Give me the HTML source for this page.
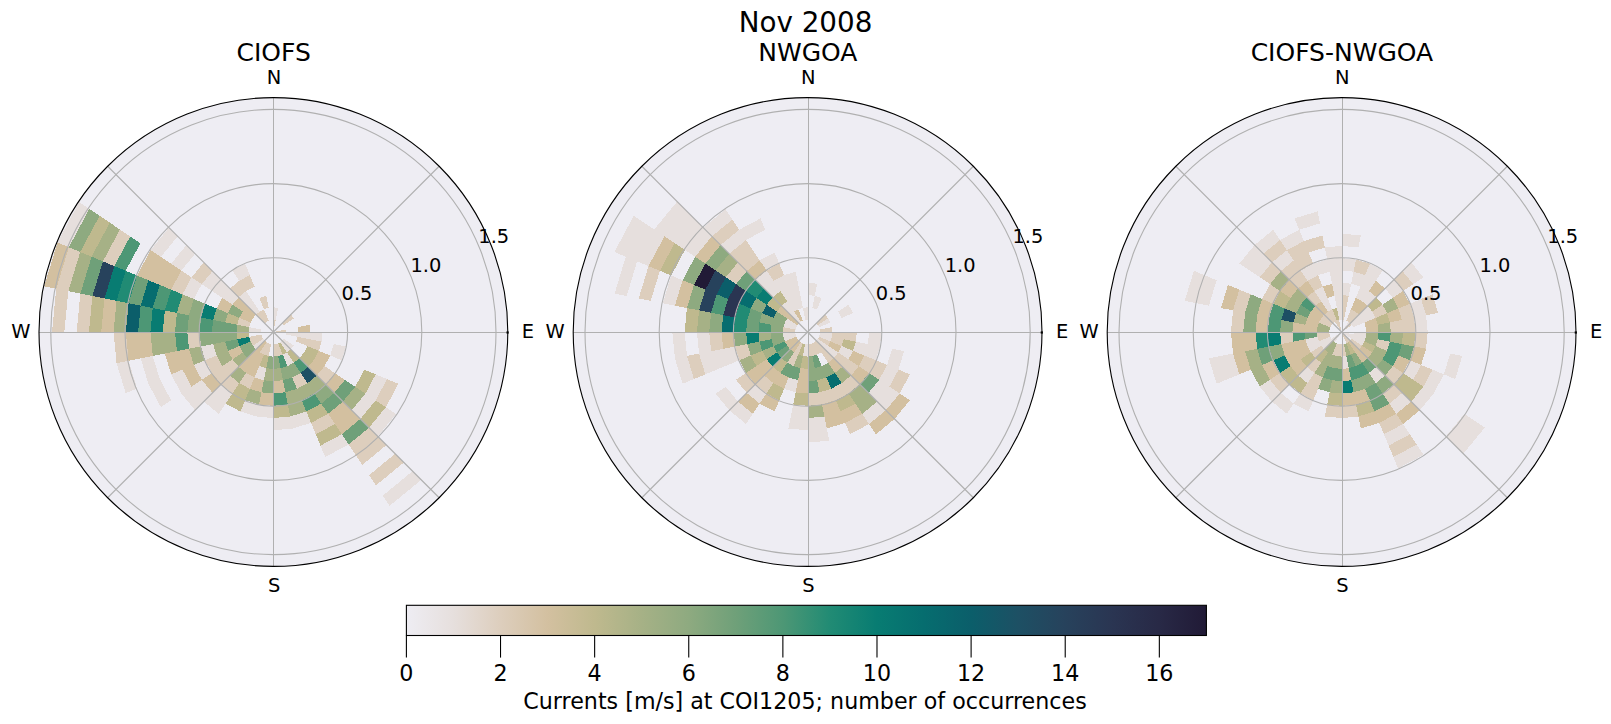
<!DOCTYPE html><html><head><meta charset="utf-8"><title>Nov 2008</title><style>html,body{margin:0;padding:0;background:#fff}svg{display:block}</style></head><body><svg width="1611" height="724" viewBox="0 0 1611 724" font-family="'DejaVu Sans', 'Liberation Sans', sans-serif" fill="#000">
<rect width="1611" height="724" fill="#fff"/>
<defs>
<clipPath id="c0"><circle cx="273.4" cy="332.0" r="234.4"/></clipPath>
<clipPath id="c1"><circle cx="807.6" cy="332.0" r="234.4"/></clipPath>
<clipPath id="c2"><circle cx="1341.6" cy="332.0" r="234.4"/></clipPath>
<linearGradient id="cb" x1="0" x2="1" y1="0" y2="0"><stop offset="0.000%" stop-color="#eeedf3"/><stop offset="5.882%" stop-color="#e6dfdd"/><stop offset="11.765%" stop-color="#ddcebd"/><stop offset="17.647%" stop-color="#d3c0a0"/><stop offset="23.529%" stop-color="#bfb98e"/><stop offset="29.412%" stop-color="#a6b186"/><stop offset="35.294%" stop-color="#8eaa80"/><stop offset="41.176%" stop-color="#6fa079"/><stop offset="47.059%" stop-color="#4d9775"/><stop offset="52.941%" stop-color="#218b74"/><stop offset="58.824%" stop-color="#087c72"/><stop offset="64.706%" stop-color="#066d6f"/><stop offset="70.588%" stop-color="#0b5e6a"/><stop offset="76.471%" stop-color="#1d5064"/><stop offset="82.353%" stop-color="#27425c"/><stop offset="88.235%" stop-color="#2a3552"/><stop offset="94.118%" stop-color="#282946"/><stop offset="100.000%" stop-color="#211a36"/></linearGradient>
</defs>
<text x="805.5" y="32.1" font-size="27.78" text-anchor="middle">Nov 2008</text>
<text x="273.7" y="61.2" font-size="25" text-anchor="middle">CIOFS</text>
<circle cx="273.4" cy="332.0" r="234.4" fill="#eeedf3"/>
<g clip-path="url(#c0)" shape-rendering="crispEdges">
<path d="M273.40,332.00L273.40,319.70L275.80,319.94Z" fill="#ddcebd"/>
<path d="M273.40,319.70L273.40,307.40L278.20,307.87L275.80,319.94Z" fill="#e6dfdd"/>
<path d="M282.10,323.30L290.79,314.61L293.85,318.33L283.63,325.17Z" fill="#ddcebd"/>
<path d="M273.40,332.00L285.46,329.60L285.70,332.00Z" fill="#ddcebd"/>
<path d="M297.53,327.20L309.59,324.80L310.30,332.00L298.00,332.00Z" fill="#d3c0a0"/>
<path d="M285.70,332.00L298.00,332.00L297.53,336.80L285.46,334.40Z" fill="#e6dfdd"/>
<path d="M298.00,332.00L310.30,332.00L309.59,339.20L297.53,336.80Z" fill="#e6dfdd"/>
<path d="M310.30,332.00L322.60,332.00L321.65,341.60L309.59,339.20Z" fill="#e6dfdd"/>
<path d="M297.53,336.80L309.59,339.20L307.49,346.12L296.13,341.41Z" fill="#ddcebd"/>
<path d="M309.59,339.20L321.65,341.60L318.85,350.83L307.49,346.12Z" fill="#ddcebd"/>
<path d="M333.72,344.00L345.78,346.40L341.58,360.24L330.22,355.54Z" fill="#e6dfdd"/>
<path d="M307.49,346.12L318.85,350.83L314.31,359.33L304.08,352.50Z" fill="#bfb98e"/>
<path d="M318.85,350.83L330.22,355.54L324.54,366.17L314.31,359.33Z" fill="#d3c0a0"/>
<path d="M364.31,369.66L375.67,374.36L365.44,393.50L355.22,386.67Z" fill="#bfb98e"/>
<path d="M375.67,374.36L387.04,379.07L375.67,400.34L365.44,393.50Z" fill="#e6dfdd"/>
<path d="M387.04,379.07L398.40,383.78L385.90,407.17L375.67,400.34Z" fill="#ddcebd"/>
<path d="M283.63,338.83L293.85,345.67L290.79,349.39L282.10,340.70Z" fill="#e6dfdd"/>
<path d="M304.08,352.50L314.31,359.33L308.19,366.79L299.49,358.09Z" fill="#bfb98e"/>
<path d="M314.31,359.33L324.54,366.17L316.89,375.49L308.19,366.79Z" fill="#d3c0a0"/>
<path d="M324.54,366.17L334.76,373.00L325.58,384.18L316.89,375.49Z" fill="#ddcebd"/>
<path d="M334.76,373.00L344.99,379.83L334.28,392.88L325.58,384.18Z" fill="#d3c0a0"/>
<path d="M344.99,379.83L355.22,386.67L342.98,401.58L334.28,392.88Z" fill="#6fa079"/>
<path d="M355.22,386.67L365.44,393.50L351.68,410.28L342.98,401.58Z" fill="#a6b186"/>
<path d="M365.44,393.50L375.67,400.34L360.37,418.97L351.68,410.28Z" fill="#e6dfdd"/>
<path d="M375.67,400.34L385.90,407.17L369.07,427.67L360.37,418.97Z" fill="#bfb98e"/>
<path d="M385.90,407.17L396.12,414.00L377.77,436.37L369.07,427.67Z" fill="#e6dfdd"/>
<path d="M282.10,340.70L290.79,349.39L287.07,352.45L280.23,342.23Z" fill="#e6dfdd"/>
<path d="M290.79,349.39L299.49,358.09L293.90,362.68L287.07,352.45Z" fill="#bfb98e"/>
<path d="M299.49,358.09L308.19,366.79L300.73,372.91L293.90,362.68Z" fill="#4d9775"/>
<path d="M308.19,366.79L316.89,375.49L307.57,383.14L300.73,372.91Z" fill="#1d5064"/>
<path d="M316.89,375.49L325.58,384.18L314.40,393.36L307.57,383.14Z" fill="#a6b186"/>
<path d="M325.58,384.18L334.28,392.88L321.23,403.59L314.40,393.36Z" fill="#8eaa80"/>
<path d="M334.28,392.88L342.98,401.58L328.07,413.82L321.23,403.59Z" fill="#6fa079"/>
<path d="M342.98,401.58L351.68,410.28L334.90,424.04L328.07,413.82Z" fill="#d3c0a0"/>
<path d="M351.68,410.28L360.37,418.97L341.74,434.27L334.90,424.04Z" fill="#d3c0a0"/>
<path d="M360.37,418.97L369.07,427.67L348.57,444.50L341.74,434.27Z" fill="#6fa079"/>
<path d="M369.07,427.67L377.77,436.37L355.40,454.72L348.57,444.50Z" fill="#ddcebd"/>
<path d="M377.77,436.37L386.47,445.07L362.24,464.95L355.40,454.72Z" fill="#ddcebd"/>
<path d="M395.16,453.76L403.86,462.46L375.90,485.41L369.07,475.18Z" fill="#ddcebd"/>
<path d="M412.56,471.16L421.26,479.86L389.57,505.86L382.74,495.63Z" fill="#e6dfdd"/>
<path d="M280.23,342.23L287.07,352.45L282.81,354.73L278.11,343.36Z" fill="#bfb98e"/>
<path d="M287.07,352.45L293.90,362.68L287.52,366.09L282.81,354.73Z" fill="#e6dfdd"/>
<path d="M293.90,362.68L300.73,372.91L292.23,377.45L287.52,366.09Z" fill="#8eaa80"/>
<path d="M300.73,372.91L307.57,383.14L296.94,388.82L292.23,377.45Z" fill="#ddcebd"/>
<path d="M307.57,383.14L314.40,393.36L301.64,400.18L296.94,388.82Z" fill="#a6b186"/>
<path d="M314.40,393.36L321.23,403.59L306.35,411.55L301.64,400.18Z" fill="#4d9775"/>
<path d="M321.23,403.59L328.07,413.82L311.06,422.91L306.35,411.55Z" fill="#bfb98e"/>
<path d="M328.07,413.82L334.90,424.04L315.76,434.27L311.06,422.91Z" fill="#ddcebd"/>
<path d="M334.90,424.04L341.74,434.27L320.47,445.64L315.76,434.27Z" fill="#bfb98e"/>
<path d="M341.74,434.27L348.57,444.50L325.18,457.00L320.47,445.64Z" fill="#e6dfdd"/>
<path d="M278.11,343.36L282.81,354.73L278.20,356.13L275.80,344.06Z" fill="#ddcebd"/>
<path d="M282.81,354.73L287.52,366.09L280.60,368.19L278.20,356.13Z" fill="#4d9775"/>
<path d="M287.52,366.09L292.23,377.45L283.00,380.25L280.60,368.19Z" fill="#8eaa80"/>
<path d="M292.23,377.45L296.94,388.82L285.40,392.32L283.00,380.25Z" fill="#6fa079"/>
<path d="M296.94,388.82L301.64,400.18L287.80,404.38L285.40,392.32Z" fill="#a6b186"/>
<path d="M301.64,400.18L306.35,411.55L290.20,416.45L287.80,404.38Z" fill="#a6b186"/>
<path d="M306.35,411.55L311.06,422.91L292.60,428.51L290.20,416.45Z" fill="#e6dfdd"/>
<path d="M275.80,344.06L278.20,356.13L273.40,356.60L273.40,344.30Z" fill="#ddcebd"/>
<path d="M278.20,356.13L280.60,368.19L273.40,368.90L273.40,356.60Z" fill="#8eaa80"/>
<path d="M280.60,368.19L283.00,380.25L273.40,381.20L273.40,368.90Z" fill="#a6b186"/>
<path d="M283.00,380.25L285.40,392.32L273.40,393.50L273.40,381.20Z" fill="#d3c0a0"/>
<path d="M285.40,392.32L287.80,404.38L273.40,405.80L273.40,393.50Z" fill="#4d9775"/>
<path d="M287.80,404.38L290.20,416.45L273.40,418.10L273.40,405.80Z" fill="#bfb98e"/>
<path d="M290.20,416.45L292.60,428.51L273.40,430.40L273.40,418.10Z" fill="#e6dfdd"/>
<path d="M273.40,356.60L273.40,368.90L266.20,368.19L268.60,356.13Z" fill="#8eaa80"/>
<path d="M273.40,368.90L273.40,381.20L263.80,380.25L266.20,368.19Z" fill="#a6b186"/>
<path d="M273.40,381.20L273.40,393.50L261.40,392.32L263.80,380.25Z" fill="#8eaa80"/>
<path d="M273.40,393.50L273.40,405.80L259.00,404.38L261.40,392.32Z" fill="#d3c0a0"/>
<path d="M273.40,405.80L273.40,418.10L256.60,416.45L259.00,404.38Z" fill="#e6dfdd"/>
<path d="M271.00,344.06L268.60,356.13L263.99,354.73L268.69,343.36Z" fill="#ddcebd"/>
<path d="M268.60,356.13L266.20,368.19L259.28,366.09L263.99,354.73Z" fill="#bfb98e"/>
<path d="M266.20,368.19L263.80,380.25L254.57,377.45L259.28,366.09Z" fill="#e6dfdd"/>
<path d="M263.80,380.25L261.40,392.32L249.86,388.82L254.57,377.45Z" fill="#d3c0a0"/>
<path d="M261.40,392.32L259.00,404.38L245.16,400.18L249.86,388.82Z" fill="#a6b186"/>
<path d="M259.00,404.38L256.60,416.45L240.45,411.55L245.16,400.18Z" fill="#e6dfdd"/>
<path d="M268.69,343.36L263.99,354.73L259.73,352.45L266.57,342.23Z" fill="#ddcebd"/>
<path d="M263.99,354.73L259.28,366.09L252.90,362.68L259.73,352.45Z" fill="#d3c0a0"/>
<path d="M259.28,366.09L254.57,377.45L246.07,372.91L252.90,362.68Z" fill="#d3c0a0"/>
<path d="M254.57,377.45L249.86,388.82L239.23,383.14L246.07,372.91Z" fill="#ddcebd"/>
<path d="M249.86,388.82L245.16,400.18L232.40,393.36L239.23,383.14Z" fill="#bfb98e"/>
<path d="M245.16,400.18L240.45,411.55L225.57,403.59L232.40,393.36Z" fill="#bfb98e"/>
<path d="M266.57,342.23L259.73,352.45L256.01,349.39L264.70,340.70Z" fill="#d3c0a0"/>
<path d="M259.73,352.45L252.90,362.68L247.31,358.09L256.01,349.39Z" fill="#d3c0a0"/>
<path d="M252.90,362.68L246.07,372.91L238.61,366.79L247.31,358.09Z" fill="#d3c0a0"/>
<path d="M246.07,372.91L239.23,383.14L229.91,375.49L238.61,366.79Z" fill="#a6b186"/>
<path d="M239.23,383.14L232.40,393.36L221.22,384.18L229.91,375.49Z" fill="#ddcebd"/>
<path d="M232.40,393.36L225.57,403.59L212.52,392.88L221.22,384.18Z" fill="#e6dfdd"/>
<path d="M225.57,403.59L218.73,413.82L203.82,401.58L212.52,392.88Z" fill="#e6dfdd"/>
<path d="M264.70,340.70L256.01,349.39L252.95,345.67L263.17,338.83Z" fill="#e6dfdd"/>
<path d="M256.01,349.39L247.31,358.09L242.72,352.50L252.95,345.67Z" fill="#8eaa80"/>
<path d="M247.31,358.09L238.61,366.79L232.49,359.33L242.72,352.50Z" fill="#a6b186"/>
<path d="M238.61,366.79L229.91,375.49L222.26,366.17L232.49,359.33Z" fill="#ddcebd"/>
<path d="M229.91,375.49L221.22,384.18L212.04,373.00L222.26,366.17Z" fill="#ddcebd"/>
<path d="M221.22,384.18L212.52,392.88L201.81,379.83L212.04,373.00Z" fill="#d3c0a0"/>
<path d="M212.52,392.88L203.82,401.58L191.58,386.67L201.81,379.83Z" fill="#e6dfdd"/>
<path d="M203.82,401.58L195.12,410.28L181.36,393.50L191.58,386.67Z" fill="#e6dfdd"/>
<path d="M263.17,338.83L252.95,345.67L250.67,341.41L262.04,336.71Z" fill="#ddcebd"/>
<path d="M252.95,345.67L242.72,352.50L239.31,346.12L250.67,341.41Z" fill="#8eaa80"/>
<path d="M242.72,352.50L232.49,359.33L227.95,350.83L239.31,346.12Z" fill="#d3c0a0"/>
<path d="M232.49,359.33L222.26,366.17L216.58,355.54L227.95,350.83Z" fill="#a6b186"/>
<path d="M222.26,366.17L212.04,373.00L205.22,360.24L216.58,355.54Z" fill="#ddcebd"/>
<path d="M212.04,373.00L201.81,379.83L193.85,364.95L205.22,360.24Z" fill="#e6dfdd"/>
<path d="M201.81,379.83L191.58,386.67L182.49,369.66L193.85,364.95Z" fill="#d3c0a0"/>
<path d="M191.58,386.67L181.36,393.50L171.13,374.36L182.49,369.66Z" fill="#e6dfdd"/>
<path d="M171.13,400.34L160.90,407.17L148.40,383.78L159.76,379.07Z" fill="#e6dfdd"/>
<path d="M262.04,336.71L250.67,341.41L249.27,336.80L261.34,334.40Z" fill="#ddcebd"/>
<path d="M250.67,341.41L239.31,346.12L237.21,339.20L249.27,336.80Z" fill="#087c72"/>
<path d="M239.31,346.12L227.95,350.83L225.15,341.60L237.21,339.20Z" fill="#6fa079"/>
<path d="M227.95,350.83L216.58,355.54L213.08,344.00L225.15,341.60Z" fill="#a6b186"/>
<path d="M216.58,355.54L205.22,360.24L201.02,346.40L213.08,344.00Z" fill="#e6dfdd"/>
<path d="M205.22,360.24L193.85,364.95L188.95,348.80L201.02,346.40Z" fill="#a6b186"/>
<path d="M193.85,364.95L182.49,369.66L176.89,351.20L188.95,348.80Z" fill="#d3c0a0"/>
<path d="M182.49,369.66L171.13,374.36L164.83,353.60L176.89,351.20Z" fill="#d3c0a0"/>
<path d="M159.76,379.07L148.40,383.78L140.70,358.40L152.76,356.00Z" fill="#e6dfdd"/>
<path d="M137.04,388.48L125.67,393.19L116.57,363.19L128.64,360.80Z" fill="#e6dfdd"/>
<path d="M249.27,336.80L237.21,339.20L236.50,332.00L248.80,332.00Z" fill="#bfb98e"/>
<path d="M237.21,339.20L225.15,341.60L224.20,332.00L236.50,332.00Z" fill="#8eaa80"/>
<path d="M225.15,341.60L213.08,344.00L211.90,332.00L224.20,332.00Z" fill="#8eaa80"/>
<path d="M213.08,344.00L201.02,346.40L199.60,332.00L211.90,332.00Z" fill="#8eaa80"/>
<path d="M201.02,346.40L188.95,348.80L187.30,332.00L199.60,332.00Z" fill="#ddcebd"/>
<path d="M188.95,348.80L176.89,351.20L175.00,332.00L187.30,332.00Z" fill="#4d9775"/>
<path d="M176.89,351.20L164.83,353.60L162.70,332.00L175.00,332.00Z" fill="#a6b186"/>
<path d="M164.83,353.60L152.76,356.00L150.40,332.00L162.70,332.00Z" fill="#a6b186"/>
<path d="M152.76,356.00L140.70,358.40L138.10,332.00L150.40,332.00Z" fill="#d3c0a0"/>
<path d="M140.70,358.40L128.64,360.80L125.80,332.00L138.10,332.00Z" fill="#d3c0a0"/>
<path d="M128.64,360.80L116.57,363.19L113.50,332.00L125.80,332.00Z" fill="#ddcebd"/>
<path d="M261.10,332.00L248.80,332.00L249.27,327.20L261.34,329.60Z" fill="#e6dfdd"/>
<path d="M248.80,332.00L236.50,332.00L237.21,324.80L249.27,327.20Z" fill="#a6b186"/>
<path d="M236.50,332.00L224.20,332.00L225.15,322.40L237.21,324.80Z" fill="#6fa079"/>
<path d="M224.20,332.00L211.90,332.00L213.08,320.00L225.15,322.40Z" fill="#6fa079"/>
<path d="M211.90,332.00L199.60,332.00L201.02,317.60L213.08,320.00Z" fill="#4d9775"/>
<path d="M199.60,332.00L187.30,332.00L188.95,315.20L201.02,317.60Z" fill="#8eaa80"/>
<path d="M187.30,332.00L175.00,332.00L176.89,312.80L188.95,315.20Z" fill="#6fa079"/>
<path d="M175.00,332.00L162.70,332.00L164.83,310.40L176.89,312.80Z" fill="#bfb98e"/>
<path d="M162.70,332.00L150.40,332.00L152.76,308.00L164.83,310.40Z" fill="#087c72"/>
<path d="M150.40,332.00L138.10,332.00L140.70,305.60L152.76,308.00Z" fill="#4d9775"/>
<path d="M138.10,332.00L125.80,332.00L128.64,303.20L140.70,305.60Z" fill="#0b5e6a"/>
<path d="M125.80,332.00L113.50,332.00L116.57,300.81L128.64,303.20Z" fill="#a6b186"/>
<path d="M113.50,332.00L101.20,332.00L104.51,298.41L116.57,300.81Z" fill="#d3c0a0"/>
<path d="M101.20,332.00L88.90,332.00L92.45,296.01L104.51,298.41Z" fill="#bfb98e"/>
<path d="M88.90,332.00L76.60,332.00L80.38,293.61L92.45,296.01Z" fill="#ddcebd"/>
<path d="M64.30,332.00L52.00,332.00L56.25,288.81L68.32,291.21Z" fill="#ddcebd"/>
<path d="M249.27,327.20L237.21,324.80L239.31,317.88L250.67,322.59Z" fill="#ddcebd"/>
<path d="M237.21,324.80L225.15,322.40L227.95,313.17L239.31,317.88Z" fill="#bfb98e"/>
<path d="M225.15,322.40L213.08,320.00L216.58,308.46L227.95,313.17Z" fill="#8eaa80"/>
<path d="M213.08,320.00L201.02,317.60L205.22,303.76L216.58,308.46Z" fill="#087c72"/>
<path d="M201.02,317.60L188.95,315.20L193.85,299.05L205.22,303.76Z" fill="#8eaa80"/>
<path d="M188.95,315.20L176.89,312.80L182.49,294.34L193.85,299.05Z" fill="#a6b186"/>
<path d="M176.89,312.80L164.83,310.40L171.13,289.64L182.49,294.34Z" fill="#218b74"/>
<path d="M164.83,310.40L152.76,308.00L159.76,284.93L171.13,289.64Z" fill="#4d9775"/>
<path d="M152.76,308.00L140.70,305.60L148.40,280.22L159.76,284.93Z" fill="#066d6f"/>
<path d="M140.70,305.60L128.64,303.20L137.04,275.52L148.40,280.22Z" fill="#6fa079"/>
<path d="M128.64,303.20L116.57,300.81L125.67,270.81L137.04,275.52Z" fill="#218b74"/>
<path d="M116.57,300.81L104.51,298.41L114.31,266.10L125.67,270.81Z" fill="#087c72"/>
<path d="M104.51,298.41L92.45,296.01L102.94,261.39L114.31,266.10Z" fill="#27425c"/>
<path d="M92.45,296.01L80.38,293.61L91.58,256.69L102.94,261.39Z" fill="#6fa079"/>
<path d="M80.38,293.61L68.32,291.21L80.22,251.98L91.58,256.69Z" fill="#a6b186"/>
<path d="M68.32,291.21L56.25,288.81L68.85,247.27L80.22,251.98Z" fill="#ddcebd"/>
<path d="M56.25,288.81L44.19,286.41L57.49,242.57L68.85,247.27Z" fill="#d3c0a0"/>
<path d="M250.67,322.59L239.31,317.88L242.72,311.50L252.95,318.33Z" fill="#d3c0a0"/>
<path d="M239.31,317.88L227.95,313.17L232.49,304.67L242.72,311.50Z" fill="#8eaa80"/>
<path d="M227.95,313.17L216.58,308.46L222.26,297.83L232.49,304.67Z" fill="#d3c0a0"/>
<path d="M193.85,299.05L182.49,294.34L191.58,277.33L201.81,284.17Z" fill="#e6dfdd"/>
<path d="M182.49,294.34L171.13,289.64L181.36,270.50L191.58,277.33Z" fill="#ddcebd"/>
<path d="M171.13,289.64L159.76,284.93L171.13,263.66L181.36,270.50Z" fill="#d3c0a0"/>
<path d="M159.76,284.93L148.40,280.22L160.90,256.83L171.13,263.66Z" fill="#d3c0a0"/>
<path d="M148.40,280.22L137.04,275.52L150.68,250.00L160.90,256.83Z" fill="#d3c0a0"/>
<path d="M125.67,270.81L114.31,266.10L130.22,236.33L140.45,243.16Z" fill="#4d9775"/>
<path d="M114.31,266.10L102.94,261.39L119.99,229.50L130.22,236.33Z" fill="#ddcebd"/>
<path d="M102.94,261.39L91.58,256.69L109.77,222.66L119.99,229.50Z" fill="#a6b186"/>
<path d="M91.58,256.69L80.22,251.98L99.54,215.83L109.77,222.66Z" fill="#bfb98e"/>
<path d="M80.22,251.98L68.85,247.27L89.31,209.00L99.54,215.83Z" fill="#8eaa80"/>
<path d="M68.85,247.27L57.49,242.57L79.09,202.16L89.31,209.00Z" fill="#e6dfdd"/>
<path d="M252.95,318.33L242.72,311.50L247.31,305.91L256.01,314.61Z" fill="#d3c0a0"/>
<path d="M242.72,311.50L232.49,304.67L238.61,297.21L247.31,305.91Z" fill="#d3c0a0"/>
<path d="M232.49,304.67L222.26,297.83L229.91,288.51L238.61,297.21Z" fill="#e6dfdd"/>
<path d="M222.26,297.83L212.04,291.00L221.22,279.82L229.91,288.51Z" fill="#e6dfdd"/>
<path d="M212.04,291.00L201.81,284.17L212.52,271.12L221.22,279.82Z" fill="#e6dfdd"/>
<path d="M201.81,284.17L191.58,277.33L203.82,262.42L212.52,271.12Z" fill="#ddcebd"/>
<path d="M181.36,270.50L171.13,263.66L186.43,245.03L195.12,253.72Z" fill="#e6dfdd"/>
<path d="M160.90,256.83L150.68,250.00L169.03,227.63L177.73,236.33Z" fill="#e6dfdd"/>
<path d="M264.70,323.30L256.01,314.61L259.73,311.55L266.57,321.77Z" fill="#ddcebd"/>
<path d="M256.01,314.61L247.31,305.91L252.90,301.32L259.73,311.55Z" fill="#e6dfdd"/>
<path d="M247.31,305.91L238.61,297.21L246.07,291.09L252.90,301.32Z" fill="#e6dfdd"/>
<path d="M238.61,297.21L229.91,288.51L239.23,280.86L246.07,291.09Z" fill="#ddcebd"/>
<path d="M266.57,321.77L259.73,311.55L263.99,309.27L268.69,320.64Z" fill="#ddcebd"/>
<path d="M246.07,291.09L239.23,280.86L249.86,275.18L254.57,286.55Z" fill="#ddcebd"/>
<path d="M239.23,280.86L232.40,270.64L245.16,263.82L249.86,275.18Z" fill="#e6dfdd"/>
<path d="M263.99,309.27L259.28,297.91L266.20,295.81L268.60,307.87Z" fill="#ddcebd"/>
</g>
<g stroke="#b0b0b0" stroke-width="1.1" fill="none"><circle cx="273.4" cy="332.0" r="74.20" fill="none"/><circle cx="273.4" cy="332.0" r="148.40" fill="none"/><circle cx="273.4" cy="332.0" r="222.60" fill="none"/><line x1="273.4" y1="332.0" x2="439.15" y2="166.25"/><line x1="273.4" y1="332.0" x2="439.15" y2="497.75"/><line x1="273.4" y1="332.0" x2="107.65" y2="497.75"/><line x1="273.4" y1="332.0" x2="107.65" y2="166.25"/><rect x="273" y="97.60" width="1" height="468.80" fill="#b0b0b0" stroke="none"/><rect x="39.00" y="332" width="468.80" height="1" fill="#b0b0b0" stroke="none"/></g>
<circle cx="273.4" cy="332.0" r="234.4" fill="none" stroke="#000" stroke-width="1.1"/>
<rect x="506.50" y="331.4" width="2.2" height="2.2" fill="#000"/>
<g font-size="19.44" text-anchor="middle">
<text x="274.0" y="84">N</text>
<text x="274.09999999999997" y="592.3">S</text>
<text x="528.0" y="338.2">E</text>
<text x="20.799999999999983" y="338.2">W</text>
<text x="357.05" y="299.75">0.5</text>
<text x="425.90" y="272.06">1.0</text>
<text x="493.76" y="242.96">1.5</text>
</g>
<text x="807.9" y="61.2" font-size="25" text-anchor="middle">NWGOA</text>
<circle cx="807.6" cy="332.0" r="234.4" fill="#eeedf3"/>
<g clip-path="url(#c1)" shape-rendering="crispEdges">
<path d="M807.60,295.10L807.60,282.80L817.20,283.75L814.80,295.81Z" fill="#e6dfdd"/>
<path d="M812.40,307.87L814.80,295.81L821.72,297.91L817.01,309.27Z" fill="#e6dfdd"/>
<path d="M816.30,323.30L824.99,314.61L828.05,318.33L817.83,325.17Z" fill="#ddcebd"/>
<path d="M817.83,325.17L828.05,318.33L830.33,322.59L818.96,327.29Z" fill="#e6dfdd"/>
<path d="M838.28,311.50L848.51,304.67L853.05,313.17L841.69,317.88Z" fill="#e6dfdd"/>
<path d="M819.66,329.60L831.73,327.20L832.20,332.00L819.90,332.00Z" fill="#ddcebd"/>
<path d="M819.90,332.00L832.20,332.00L831.73,336.80L819.66,334.40Z" fill="#e6dfdd"/>
<path d="M832.20,332.00L844.50,332.00L843.79,339.20L831.73,336.80Z" fill="#ddcebd"/>
<path d="M844.50,332.00L856.80,332.00L855.85,341.60L843.79,339.20Z" fill="#ddcebd"/>
<path d="M869.10,332.00L881.40,332.00L879.98,346.40L867.92,344.00Z" fill="#e6dfdd"/>
<path d="M819.66,334.40L831.73,336.80L830.33,341.41L818.96,336.71Z" fill="#e6dfdd"/>
<path d="M831.73,336.80L843.79,339.20L841.69,346.12L830.33,341.41Z" fill="#ddcebd"/>
<path d="M843.79,339.20L855.85,341.60L853.05,350.83L841.69,346.12Z" fill="#bfb98e"/>
<path d="M855.85,341.60L867.92,344.00L864.42,355.54L853.05,350.83Z" fill="#e6dfdd"/>
<path d="M867.92,344.00L879.98,346.40L875.78,360.24L864.42,355.54Z" fill="#e6dfdd"/>
<path d="M892.05,348.80L904.11,351.20L898.51,369.66L887.15,364.95Z" fill="#e6dfdd"/>
<path d="M818.96,336.71L830.33,341.41L828.05,345.67L817.83,338.83Z" fill="#ddcebd"/>
<path d="M830.33,341.41L841.69,346.12L838.28,352.50L828.05,345.67Z" fill="#d3c0a0"/>
<path d="M841.69,346.12L853.05,350.83L848.51,359.33L838.28,352.50Z" fill="#e6dfdd"/>
<path d="M853.05,350.83L864.42,355.54L858.74,366.17L848.51,359.33Z" fill="#d3c0a0"/>
<path d="M864.42,355.54L875.78,360.24L868.96,373.00L858.74,366.17Z" fill="#ddcebd"/>
<path d="M875.78,360.24L887.15,364.95L879.19,379.83L868.96,373.00Z" fill="#ddcebd"/>
<path d="M887.15,364.95L898.51,369.66L889.42,386.67L879.19,379.83Z" fill="#e6dfdd"/>
<path d="M898.51,369.66L909.87,374.36L899.64,393.50L889.42,386.67Z" fill="#ddcebd"/>
<path d="M817.83,338.83L828.05,345.67L824.99,349.39L816.30,340.70Z" fill="#e6dfdd"/>
<path d="M828.05,345.67L838.28,352.50L833.69,358.09L824.99,349.39Z" fill="#e6dfdd"/>
<path d="M838.28,352.50L848.51,359.33L842.39,366.79L833.69,358.09Z" fill="#ddcebd"/>
<path d="M848.51,359.33L858.74,366.17L851.09,375.49L842.39,366.79Z" fill="#ddcebd"/>
<path d="M858.74,366.17L868.96,373.00L859.78,384.18L851.09,375.49Z" fill="#d3c0a0"/>
<path d="M868.96,373.00L879.19,379.83L868.48,392.88L859.78,384.18Z" fill="#6fa079"/>
<path d="M879.19,379.83L889.42,386.67L877.18,401.58L868.48,392.88Z" fill="#e6dfdd"/>
<path d="M889.42,386.67L899.64,393.50L885.88,410.28L877.18,401.58Z" fill="#e6dfdd"/>
<path d="M899.64,393.50L909.87,400.34L894.57,418.97L885.88,410.28Z" fill="#d3c0a0"/>
<path d="M816.30,340.70L824.99,349.39L821.27,352.45L814.43,342.23Z" fill="#ddcebd"/>
<path d="M824.99,349.39L833.69,358.09L828.10,362.68L821.27,352.45Z" fill="#ddcebd"/>
<path d="M833.69,358.09L842.39,366.79L834.93,372.91L828.10,362.68Z" fill="#d3c0a0"/>
<path d="M842.39,366.79L851.09,375.49L841.77,383.14L834.93,372.91Z" fill="#a6b186"/>
<path d="M851.09,375.49L859.78,384.18L848.60,393.36L841.77,383.14Z" fill="#ddcebd"/>
<path d="M859.78,384.18L868.48,392.88L855.43,403.59L848.60,393.36Z" fill="#a6b186"/>
<path d="M868.48,392.88L877.18,401.58L862.27,413.82L855.43,403.59Z" fill="#a6b186"/>
<path d="M877.18,401.58L885.88,410.28L869.10,424.04L862.27,413.82Z" fill="#e6dfdd"/>
<path d="M885.88,410.28L894.57,418.97L875.94,434.27L869.10,424.04Z" fill="#d3c0a0"/>
<path d="M814.43,342.23L821.27,352.45L817.01,354.73L812.31,343.36Z" fill="#ddcebd"/>
<path d="M828.10,362.68L834.93,372.91L826.43,377.45L821.72,366.09Z" fill="#8eaa80"/>
<path d="M834.93,372.91L841.77,383.14L831.14,388.82L826.43,377.45Z" fill="#066d6f"/>
<path d="M841.77,383.14L848.60,393.36L835.84,400.18L831.14,388.82Z" fill="#ddcebd"/>
<path d="M848.60,393.36L855.43,403.59L840.55,411.55L835.84,400.18Z" fill="#bfb98e"/>
<path d="M855.43,403.59L862.27,413.82L845.26,422.91L840.55,411.55Z" fill="#d3c0a0"/>
<path d="M862.27,413.82L869.10,424.04L849.96,434.27L845.26,422.91Z" fill="#ddcebd"/>
<path d="M812.31,343.36L817.01,354.73L812.40,356.13L810.00,344.06Z" fill="#ddcebd"/>
<path d="M817.01,354.73L821.72,366.09L814.80,368.19L812.40,356.13Z" fill="#6fa079"/>
<path d="M821.72,366.09L826.43,377.45L817.20,380.25L814.80,368.19Z" fill="#8eaa80"/>
<path d="M826.43,377.45L831.14,388.82L819.60,392.32L817.20,380.25Z" fill="#bfb98e"/>
<path d="M831.14,388.82L835.84,400.18L822.00,404.38L819.60,392.32Z" fill="#ddcebd"/>
<path d="M835.84,400.18L840.55,411.55L824.40,416.45L822.00,404.38Z" fill="#d3c0a0"/>
<path d="M840.55,411.55L845.26,422.91L826.80,428.51L824.40,416.45Z" fill="#d3c0a0"/>
<path d="M810.00,344.06L812.40,356.13L807.60,356.60L807.60,344.30Z" fill="#ddcebd"/>
<path d="M812.40,356.13L814.80,368.19L807.60,368.90L807.60,356.60Z" fill="#8eaa80"/>
<path d="M814.80,368.19L817.20,380.25L807.60,381.20L807.60,368.90Z" fill="#8eaa80"/>
<path d="M817.20,380.25L819.60,392.32L807.60,393.50L807.60,381.20Z" fill="#6fa079"/>
<path d="M819.60,392.32L822.00,404.38L807.60,405.80L807.60,393.50Z" fill="#ddcebd"/>
<path d="M822.00,404.38L824.40,416.45L807.60,418.10L807.60,405.80Z" fill="#a6b186"/>
<path d="M824.40,416.45L826.80,428.51L807.60,430.40L807.60,418.10Z" fill="#e6dfdd"/>
<path d="M826.80,428.51L829.20,440.57L807.60,442.70L807.60,430.40Z" fill="#e6dfdd"/>
<path d="M807.60,344.30L807.60,356.60L802.80,356.13L805.20,344.06Z" fill="#e6dfdd"/>
<path d="M807.60,356.60L807.60,368.90L800.40,368.19L802.80,356.13Z" fill="#bfb98e"/>
<path d="M807.60,368.90L807.60,381.20L798.00,380.25L800.40,368.19Z" fill="#d3c0a0"/>
<path d="M807.60,381.20L807.60,393.50L795.60,392.32L798.00,380.25Z" fill="#d3c0a0"/>
<path d="M807.60,393.50L807.60,405.80L793.20,404.38L795.60,392.32Z" fill="#bfb98e"/>
<path d="M807.60,405.80L807.60,418.10L790.80,416.45L793.20,404.38Z" fill="#e6dfdd"/>
<path d="M807.60,418.10L807.60,430.40L788.40,428.51L790.80,416.45Z" fill="#e6dfdd"/>
<path d="M805.20,344.06L802.80,356.13L798.19,354.73L802.89,343.36Z" fill="#bfb98e"/>
<path d="M802.80,356.13L800.40,368.19L793.48,366.09L798.19,354.73Z" fill="#a6b186"/>
<path d="M800.40,368.19L798.00,380.25L788.77,377.45L793.48,366.09Z" fill="#6fa079"/>
<path d="M798.00,380.25L795.60,392.32L784.06,388.82L788.77,377.45Z" fill="#e6dfdd"/>
<path d="M802.89,343.36L798.19,354.73L793.93,352.45L800.77,342.23Z" fill="#ddcebd"/>
<path d="M798.19,354.73L793.48,366.09L787.10,362.68L793.93,352.45Z" fill="#ddcebd"/>
<path d="M793.48,366.09L788.77,377.45L780.27,372.91L787.10,362.68Z" fill="#6fa079"/>
<path d="M788.77,377.45L784.06,388.82L773.43,383.14L780.27,372.91Z" fill="#d3c0a0"/>
<path d="M784.06,388.82L779.36,400.18L766.60,393.36L773.43,383.14Z" fill="#bfb98e"/>
<path d="M779.36,400.18L774.65,411.55L759.77,403.59L766.60,393.36Z" fill="#d3c0a0"/>
<path d="M800.77,342.23L793.93,352.45L790.21,349.39L798.90,340.70Z" fill="#d3c0a0"/>
<path d="M793.93,352.45L787.10,362.68L781.51,358.09L790.21,349.39Z" fill="#8eaa80"/>
<path d="M787.10,362.68L780.27,372.91L772.81,366.79L781.51,358.09Z" fill="#bfb98e"/>
<path d="M780.27,372.91L773.43,383.14L764.11,375.49L772.81,366.79Z" fill="#d3c0a0"/>
<path d="M773.43,383.14L766.60,393.36L755.42,384.18L764.11,375.49Z" fill="#ddcebd"/>
<path d="M766.60,393.36L759.77,403.59L746.72,392.88L755.42,384.18Z" fill="#e6dfdd"/>
<path d="M759.77,403.59L752.93,413.82L738.02,401.58L746.72,392.88Z" fill="#d3c0a0"/>
<path d="M752.93,413.82L746.10,424.04L729.32,410.28L738.02,401.58Z" fill="#e6dfdd"/>
<path d="M798.90,340.70L790.21,349.39L787.15,345.67L797.37,338.83Z" fill="#d3c0a0"/>
<path d="M790.21,349.39L781.51,358.09L776.92,352.50L787.15,345.67Z" fill="#6fa079"/>
<path d="M781.51,358.09L772.81,366.79L766.69,359.33L776.92,352.50Z" fill="#087c72"/>
<path d="M772.81,366.79L764.11,375.49L756.46,366.17L766.69,359.33Z" fill="#d3c0a0"/>
<path d="M764.11,375.49L755.42,384.18L746.24,373.00L756.46,366.17Z" fill="#d3c0a0"/>
<path d="M755.42,384.18L746.72,392.88L736.01,379.83L746.24,373.00Z" fill="#ddcebd"/>
<path d="M738.02,401.58L729.32,410.28L715.56,393.50L725.78,386.67Z" fill="#e6dfdd"/>
<path d="M797.37,338.83L787.15,345.67L784.87,341.41L796.24,336.71Z" fill="#d3c0a0"/>
<path d="M787.15,345.67L776.92,352.50L773.51,346.12L784.87,341.41Z" fill="#4d9775"/>
<path d="M776.92,352.50L766.69,359.33L762.15,350.83L773.51,346.12Z" fill="#a6b186"/>
<path d="M766.69,359.33L756.46,366.17L750.78,355.54L762.15,350.83Z" fill="#bfb98e"/>
<path d="M756.46,366.17L746.24,373.00L739.42,360.24L750.78,355.54Z" fill="#a6b186"/>
<path d="M796.24,336.71L784.87,341.41L783.47,336.80L795.54,334.40Z" fill="#e6dfdd"/>
<path d="M784.87,341.41L773.51,346.12L771.41,339.20L783.47,336.80Z" fill="#8eaa80"/>
<path d="M773.51,346.12L762.15,350.83L759.35,341.60L771.41,339.20Z" fill="#4d9775"/>
<path d="M762.15,350.83L750.78,355.54L747.28,344.00L759.35,341.60Z" fill="#8eaa80"/>
<path d="M750.78,355.54L739.42,360.24L735.22,346.40L747.28,344.00Z" fill="#ddcebd"/>
<path d="M739.42,360.24L728.05,364.95L723.15,348.80L735.22,346.40Z" fill="#e6dfdd"/>
<path d="M728.05,364.95L716.69,369.66L711.09,351.20L723.15,348.80Z" fill="#e6dfdd"/>
<path d="M716.69,369.66L705.33,374.36L699.03,353.60L711.09,351.20Z" fill="#e6dfdd"/>
<path d="M705.33,374.36L693.96,379.07L686.96,356.00L699.03,353.60Z" fill="#ddcebd"/>
<path d="M693.96,379.07L682.60,383.78L674.90,358.40L686.96,356.00Z" fill="#e6dfdd"/>
<path d="M795.54,334.40L783.47,336.80L783.00,332.00L795.30,332.00Z" fill="#e6dfdd"/>
<path d="M783.47,336.80L771.41,339.20L770.70,332.00L783.00,332.00Z" fill="#8eaa80"/>
<path d="M771.41,339.20L759.35,341.60L758.40,332.00L770.70,332.00Z" fill="#a6b186"/>
<path d="M759.35,341.60L747.28,344.00L746.10,332.00L758.40,332.00Z" fill="#087c72"/>
<path d="M747.28,344.00L735.22,346.40L733.80,332.00L746.10,332.00Z" fill="#8eaa80"/>
<path d="M735.22,346.40L723.15,348.80L721.50,332.00L733.80,332.00Z" fill="#d3c0a0"/>
<path d="M723.15,348.80L711.09,351.20L709.20,332.00L721.50,332.00Z" fill="#ddcebd"/>
<path d="M711.09,351.20L699.03,353.60L696.90,332.00L709.20,332.00Z" fill="#e6dfdd"/>
<path d="M686.96,356.00L674.90,358.40L672.30,332.00L684.60,332.00Z" fill="#e6dfdd"/>
<path d="M795.30,332.00L783.00,332.00L783.47,327.20L795.54,329.60Z" fill="#ddcebd"/>
<path d="M783.00,332.00L770.70,332.00L771.41,324.80L783.47,327.20Z" fill="#8eaa80"/>
<path d="M770.70,332.00L758.40,332.00L759.35,322.40L771.41,324.80Z" fill="#4d9775"/>
<path d="M758.40,332.00L746.10,332.00L747.28,320.00L759.35,322.40Z" fill="#6fa079"/>
<path d="M746.10,332.00L733.80,332.00L735.22,317.60L747.28,320.00Z" fill="#218b74"/>
<path d="M733.80,332.00L721.50,332.00L723.15,315.20L735.22,317.60Z" fill="#066d6f"/>
<path d="M721.50,332.00L709.20,332.00L711.09,312.80L723.15,315.20Z" fill="#8eaa80"/>
<path d="M709.20,332.00L696.90,332.00L699.03,310.40L711.09,312.80Z" fill="#a6b186"/>
<path d="M696.90,332.00L684.60,332.00L686.96,308.00L699.03,310.40Z" fill="#bfb98e"/>
<path d="M795.54,329.60L783.47,327.20L784.87,322.59L796.24,327.29Z" fill="#e6dfdd"/>
<path d="M783.47,327.20L771.41,324.80L773.51,317.88L784.87,322.59Z" fill="#8eaa80"/>
<path d="M771.41,324.80L759.35,322.40L762.15,313.17L773.51,317.88Z" fill="#8eaa80"/>
<path d="M759.35,322.40L747.28,320.00L750.78,308.46L762.15,313.17Z" fill="#6fa079"/>
<path d="M747.28,320.00L735.22,317.60L739.42,303.76L750.78,308.46Z" fill="#218b74"/>
<path d="M735.22,317.60L723.15,315.20L728.05,299.05L739.42,303.76Z" fill="#2a3552"/>
<path d="M723.15,315.20L711.09,312.80L716.69,294.34L728.05,299.05Z" fill="#4d9775"/>
<path d="M711.09,312.80L699.03,310.40L705.33,289.64L716.69,294.34Z" fill="#27425c"/>
<path d="M699.03,310.40L686.96,308.00L693.96,284.93L705.33,289.64Z" fill="#8eaa80"/>
<path d="M686.96,308.00L674.90,305.60L682.60,280.22L693.96,284.93Z" fill="#d3c0a0"/>
<path d="M674.90,305.60L662.84,303.20L671.24,275.52L682.60,280.22Z" fill="#e6dfdd"/>
<path d="M650.77,300.81L638.71,298.41L648.51,266.10L659.87,270.81Z" fill="#ddcebd"/>
<path d="M626.65,296.01L614.58,293.61L625.78,256.69L637.14,261.39Z" fill="#e6dfdd"/>
<path d="M796.24,327.29L784.87,322.59L787.15,318.33L797.37,325.17Z" fill="#e6dfdd"/>
<path d="M784.87,322.59L773.51,317.88L776.92,311.50L787.15,318.33Z" fill="#8eaa80"/>
<path d="M773.51,317.88L762.15,313.17L766.69,304.67L776.92,311.50Z" fill="#0b5e6a"/>
<path d="M762.15,313.17L750.78,308.46L756.46,297.83L766.69,304.67Z" fill="#8eaa80"/>
<path d="M750.78,308.46L739.42,303.76L746.24,291.00L756.46,297.83Z" fill="#066d6f"/>
<path d="M739.42,303.76L728.05,299.05L736.01,284.17L746.24,291.00Z" fill="#2a3552"/>
<path d="M728.05,299.05L716.69,294.34L725.78,277.33L736.01,284.17Z" fill="#0b5e6a"/>
<path d="M716.69,294.34L705.33,289.64L715.56,270.50L725.78,277.33Z" fill="#27425c"/>
<path d="M705.33,289.64L693.96,284.93L705.33,263.66L715.56,270.50Z" fill="#211a36"/>
<path d="M693.96,284.93L682.60,280.22L695.10,256.83L705.33,263.66Z" fill="#8eaa80"/>
<path d="M671.24,275.52L659.87,270.81L674.65,243.16L684.88,250.00Z" fill="#bfb98e"/>
<path d="M659.87,270.81L648.51,266.10L664.42,236.33L674.65,243.16Z" fill="#d3c0a0"/>
<path d="M648.51,266.10L637.14,261.39L654.19,229.50L664.42,236.33Z" fill="#e6dfdd"/>
<path d="M637.14,261.39L625.78,256.69L643.97,222.66L654.19,229.50Z" fill="#e6dfdd"/>
<path d="M625.78,256.69L614.42,251.98L633.74,215.83L643.97,222.66Z" fill="#e6dfdd"/>
<path d="M797.37,325.17L787.15,318.33L790.21,314.61L798.90,323.30Z" fill="#d3c0a0"/>
<path d="M787.15,318.33L776.92,311.50L781.51,305.91L790.21,314.61Z" fill="#d3c0a0"/>
<path d="M776.92,311.50L766.69,304.67L772.81,297.21L781.51,305.91Z" fill="#bfb98e"/>
<path d="M766.69,304.67L756.46,297.83L764.11,288.51L772.81,297.21Z" fill="#087c72"/>
<path d="M756.46,297.83L746.24,291.00L755.42,279.82L764.11,288.51Z" fill="#218b74"/>
<path d="M746.24,291.00L736.01,284.17L746.72,271.12L755.42,279.82Z" fill="#6fa079"/>
<path d="M736.01,284.17L725.78,277.33L738.02,262.42L746.72,271.12Z" fill="#ddcebd"/>
<path d="M725.78,277.33L715.56,270.50L729.32,253.72L738.02,262.42Z" fill="#a6b186"/>
<path d="M715.56,270.50L705.33,263.66L720.63,245.03L729.32,253.72Z" fill="#8eaa80"/>
<path d="M705.33,263.66L695.10,256.83L711.93,236.33L720.63,245.03Z" fill="#d3c0a0"/>
<path d="M695.10,256.83L684.88,250.00L703.23,227.63L711.93,236.33Z" fill="#e6dfdd"/>
<path d="M684.88,250.00L674.65,243.16L694.53,218.93L703.23,227.63Z" fill="#e6dfdd"/>
<path d="M674.65,243.16L664.42,236.33L685.84,210.24L694.53,218.93Z" fill="#e6dfdd"/>
<path d="M664.42,236.33L654.19,229.50L677.14,201.54L685.84,210.24Z" fill="#e6dfdd"/>
<path d="M798.90,323.30L790.21,314.61L793.93,311.55L800.77,321.77Z" fill="#e6dfdd"/>
<path d="M790.21,314.61L781.51,305.91L787.10,301.32L793.93,311.55Z" fill="#e6dfdd"/>
<path d="M781.51,305.91L772.81,297.21L780.27,291.09L787.10,301.32Z" fill="#bfb98e"/>
<path d="M772.81,297.21L764.11,288.51L773.43,280.86L780.27,291.09Z" fill="#e6dfdd"/>
<path d="M764.11,288.51L755.42,279.82L766.60,270.64L773.43,280.86Z" fill="#e6dfdd"/>
<path d="M755.42,279.82L746.72,271.12L759.77,260.41L766.60,270.64Z" fill="#d3c0a0"/>
<path d="M746.72,271.12L738.02,262.42L752.93,250.18L759.77,260.41Z" fill="#ddcebd"/>
<path d="M738.02,262.42L729.32,253.72L746.10,239.96L752.93,250.18Z" fill="#ddcebd"/>
<path d="M729.32,253.72L720.63,245.03L739.26,229.73L746.10,239.96Z" fill="#e6dfdd"/>
<path d="M720.63,245.03L711.93,236.33L732.43,219.50L739.26,229.73Z" fill="#ddcebd"/>
<path d="M711.93,236.33L703.23,227.63L725.60,209.28L732.43,219.50Z" fill="#e6dfdd"/>
<path d="M800.77,321.77L793.93,311.55L798.19,309.27L802.89,320.64Z" fill="#d3c0a0"/>
<path d="M793.93,311.55L787.10,301.32L793.48,297.91L798.19,309.27Z" fill="#e6dfdd"/>
<path d="M787.10,301.32L780.27,291.09L788.77,286.55L793.48,297.91Z" fill="#e6dfdd"/>
<path d="M780.27,291.09L773.43,280.86L784.06,275.18L788.77,286.55Z" fill="#e6dfdd"/>
<path d="M773.43,280.86L766.60,270.64L779.36,263.82L784.06,275.18Z" fill="#ddcebd"/>
<path d="M766.60,270.64L759.77,260.41L774.65,252.45L779.36,263.82Z" fill="#e6dfdd"/>
<path d="M746.10,239.96L739.26,229.73L760.53,218.36L765.24,229.73Z" fill="#e6dfdd"/>
<path d="M798.19,309.27L793.48,297.91L800.40,295.81L802.80,307.87Z" fill="#e6dfdd"/>
<path d="M793.48,297.91L788.77,286.55L798.00,283.75L800.40,295.81Z" fill="#e6dfdd"/>
<path d="M788.77,286.55L784.06,275.18L795.60,271.68L798.00,283.75Z" fill="#e6dfdd"/>
<path d="M805.20,319.94L802.80,307.87L807.60,307.40L807.60,319.70Z" fill="#e6dfdd"/>
</g>
<g stroke="#b0b0b0" stroke-width="1.1" fill="none"><circle cx="807.6" cy="332.0" r="74.20" fill="none"/><circle cx="807.6" cy="332.0" r="148.40" fill="none"/><circle cx="807.6" cy="332.0" r="222.60" fill="none"/><line x1="807.6" y1="332.0" x2="973.35" y2="166.25"/><line x1="807.6" y1="332.0" x2="973.35" y2="497.75"/><line x1="807.6" y1="332.0" x2="641.85" y2="497.75"/><line x1="807.6" y1="332.0" x2="641.85" y2="166.25"/><rect x="808" y="97.60" width="1" height="468.80" fill="#b0b0b0" stroke="none"/><rect x="573.20" y="332" width="468.80" height="1" fill="#b0b0b0" stroke="none"/></g>
<circle cx="807.6" cy="332.0" r="234.4" fill="none" stroke="#000" stroke-width="1.1"/>
<rect x="1040.70" y="331.4" width="2.2" height="2.2" fill="#000"/>
<g font-size="19.44" text-anchor="middle">
<text x="808.2" y="84">N</text>
<text x="808.3000000000001" y="592.3">S</text>
<text x="1062.2" y="338.2">E</text>
<text x="555.0" y="338.2">W</text>
<text x="891.25" y="299.75">0.5</text>
<text x="960.10" y="272.06">1.0</text>
<text x="1027.96" y="242.96">1.5</text>
</g>
<text x="1341.8999999999999" y="61.2" font-size="25" text-anchor="middle">CIOFS-NWGOA</text>
<circle cx="1341.6" cy="332.0" r="234.4" fill="#eeedf3"/>
<g clip-path="url(#c2)" shape-rendering="crispEdges">
<path d="M1341.60,332.00L1341.60,319.70L1344.00,319.94Z" fill="#e6dfdd"/>
<path d="M1341.60,319.70L1341.60,307.40L1346.40,307.87L1344.00,319.94Z" fill="#ddcebd"/>
<path d="M1341.60,307.40L1341.60,295.10L1348.80,295.81L1346.40,307.87Z" fill="#ddcebd"/>
<path d="M1341.60,295.10L1341.60,282.80L1351.20,283.75L1348.80,295.81Z" fill="#e6dfdd"/>
<path d="M1341.60,270.50L1341.60,258.20L1356.00,259.62L1353.60,271.68Z" fill="#e6dfdd"/>
<path d="M1341.60,245.90L1341.60,233.60L1360.80,235.49L1358.40,247.55Z" fill="#e6dfdd"/>
<path d="M1351.20,283.75L1353.60,271.68L1365.14,275.18L1360.43,286.55Z" fill="#e6dfdd"/>
<path d="M1353.60,271.68L1356.00,259.62L1369.84,263.82L1365.14,275.18Z" fill="#ddcebd"/>
<path d="M1346.31,320.64L1351.01,309.27L1355.27,311.55L1348.43,321.77Z" fill="#ddcebd"/>
<path d="M1351.01,309.27L1355.72,297.91L1362.10,301.32L1355.27,311.55Z" fill="#d3c0a0"/>
<path d="M1355.72,297.91L1360.43,286.55L1368.93,291.09L1362.10,301.32Z" fill="#e6dfdd"/>
<path d="M1360.43,286.55L1365.14,275.18L1375.77,280.86L1368.93,291.09Z" fill="#e6dfdd"/>
<path d="M1365.14,275.18L1369.84,263.82L1382.60,270.64L1375.77,280.86Z" fill="#e6dfdd"/>
<path d="M1341.60,332.00L1348.43,321.77L1350.30,323.30Z" fill="#e6dfdd"/>
<path d="M1348.43,321.77L1355.27,311.55L1358.99,314.61L1350.30,323.30Z" fill="#ddcebd"/>
<path d="M1355.27,311.55L1362.10,301.32L1367.69,305.91L1358.99,314.61Z" fill="#d3c0a0"/>
<path d="M1362.10,301.32L1368.93,291.09L1376.39,297.21L1367.69,305.91Z" fill="#e6dfdd"/>
<path d="M1368.93,291.09L1375.77,280.86L1385.09,288.51L1376.39,297.21Z" fill="#d3c0a0"/>
<path d="M1341.60,332.00L1350.30,323.30L1351.83,325.17Z" fill="#ddcebd"/>
<path d="M1350.30,323.30L1358.99,314.61L1362.05,318.33L1351.83,325.17Z" fill="#e6dfdd"/>
<path d="M1358.99,314.61L1367.69,305.91L1372.28,311.50L1362.05,318.33Z" fill="#e6dfdd"/>
<path d="M1367.69,305.91L1376.39,297.21L1382.51,304.67L1372.28,311.50Z" fill="#bfb98e"/>
<path d="M1385.09,288.51L1393.78,279.82L1402.96,291.00L1392.74,297.83Z" fill="#e6dfdd"/>
<path d="M1393.78,279.82L1402.48,271.12L1413.19,284.17L1402.96,291.00Z" fill="#ddcebd"/>
<path d="M1402.48,271.12L1411.18,262.42L1423.42,277.33L1413.19,284.17Z" fill="#e6dfdd"/>
<path d="M1351.83,325.17L1362.05,318.33L1364.33,322.59L1352.96,327.29Z" fill="#e6dfdd"/>
<path d="M1362.05,318.33L1372.28,311.50L1375.69,317.88L1364.33,322.59Z" fill="#e6dfdd"/>
<path d="M1372.28,311.50L1382.51,304.67L1387.05,313.17L1375.69,317.88Z" fill="#ddcebd"/>
<path d="M1382.51,304.67L1392.74,297.83L1398.42,308.46L1387.05,313.17Z" fill="#a6b186"/>
<path d="M1392.74,297.83L1402.96,291.00L1409.78,303.76L1398.42,308.46Z" fill="#d3c0a0"/>
<path d="M1364.33,322.59L1375.69,317.88L1377.79,324.80L1365.73,327.20Z" fill="#d3c0a0"/>
<path d="M1375.69,317.88L1387.05,313.17L1389.85,322.40L1377.79,324.80Z" fill="#bfb98e"/>
<path d="M1387.05,313.17L1398.42,308.46L1401.92,320.00L1389.85,322.40Z" fill="#d3c0a0"/>
<path d="M1398.42,308.46L1409.78,303.76L1413.98,317.60L1401.92,320.00Z" fill="#ddcebd"/>
<path d="M1409.78,303.76L1421.15,299.05L1426.05,315.20L1413.98,317.60Z" fill="#e6dfdd"/>
<path d="M1421.15,299.05L1432.51,294.34L1438.11,312.80L1426.05,315.20Z" fill="#ddcebd"/>
<path d="M1365.73,327.20L1377.79,324.80L1378.50,332.00L1366.20,332.00Z" fill="#d3c0a0"/>
<path d="M1377.79,324.80L1389.85,322.40L1390.80,332.00L1378.50,332.00Z" fill="#a6b186"/>
<path d="M1389.85,322.40L1401.92,320.00L1403.10,332.00L1390.80,332.00Z" fill="#ddcebd"/>
<path d="M1401.92,320.00L1413.98,317.60L1415.40,332.00L1403.10,332.00Z" fill="#ddcebd"/>
<path d="M1413.98,317.60L1426.05,315.20L1427.70,332.00L1415.40,332.00Z" fill="#e6dfdd"/>
<path d="M1353.90,332.00L1366.20,332.00L1365.73,336.80L1353.66,334.40Z" fill="#e6dfdd"/>
<path d="M1366.20,332.00L1378.50,332.00L1377.79,339.20L1365.73,336.80Z" fill="#a6b186"/>
<path d="M1378.50,332.00L1390.80,332.00L1389.85,341.60L1377.79,339.20Z" fill="#4d9775"/>
<path d="M1390.80,332.00L1403.10,332.00L1401.92,344.00L1389.85,341.60Z" fill="#a6b186"/>
<path d="M1403.10,332.00L1415.40,332.00L1413.98,346.40L1401.92,344.00Z" fill="#bfb98e"/>
<path d="M1415.40,332.00L1427.70,332.00L1426.05,348.80L1413.98,346.40Z" fill="#ddcebd"/>
<path d="M1341.60,332.00L1353.66,334.40L1352.96,336.71Z" fill="#e6dfdd"/>
<path d="M1353.66,334.40L1365.73,336.80L1364.33,341.41L1352.96,336.71Z" fill="#e6dfdd"/>
<path d="M1365.73,336.80L1377.79,339.20L1375.69,346.12L1364.33,341.41Z" fill="#a6b186"/>
<path d="M1377.79,339.20L1389.85,341.60L1387.05,350.83L1375.69,346.12Z" fill="#ddcebd"/>
<path d="M1389.85,341.60L1401.92,344.00L1398.42,355.54L1387.05,350.83Z" fill="#4d9775"/>
<path d="M1401.92,344.00L1413.98,346.40L1409.78,360.24L1398.42,355.54Z" fill="#6fa079"/>
<path d="M1413.98,346.40L1426.05,348.80L1421.15,364.95L1409.78,360.24Z" fill="#d3c0a0"/>
<path d="M1450.17,353.60L1462.24,356.00L1455.24,379.07L1443.87,374.36Z" fill="#e6dfdd"/>
<path d="M1341.60,332.00L1352.96,336.71L1351.83,338.83Z" fill="#e6dfdd"/>
<path d="M1352.96,336.71L1364.33,341.41L1362.05,345.67L1351.83,338.83Z" fill="#e6dfdd"/>
<path d="M1364.33,341.41L1375.69,346.12L1372.28,352.50L1362.05,345.67Z" fill="#bfb98e"/>
<path d="M1375.69,346.12L1387.05,350.83L1382.51,359.33L1372.28,352.50Z" fill="#a6b186"/>
<path d="M1387.05,350.83L1398.42,355.54L1392.74,366.17L1382.51,359.33Z" fill="#4d9775"/>
<path d="M1398.42,355.54L1409.78,360.24L1402.96,373.00L1392.74,366.17Z" fill="#d3c0a0"/>
<path d="M1409.78,360.24L1421.15,364.95L1413.19,379.83L1402.96,373.00Z" fill="#e6dfdd"/>
<path d="M1421.15,364.95L1432.51,369.66L1423.42,386.67L1413.19,379.83Z" fill="#ddcebd"/>
<path d="M1432.51,369.66L1443.87,374.36L1433.64,393.50L1423.42,386.67Z" fill="#e6dfdd"/>
<path d="M1351.83,338.83L1362.05,345.67L1358.99,349.39L1350.30,340.70Z" fill="#ddcebd"/>
<path d="M1362.05,345.67L1372.28,352.50L1367.69,358.09L1358.99,349.39Z" fill="#d3c0a0"/>
<path d="M1372.28,352.50L1382.51,359.33L1376.39,366.79L1367.69,358.09Z" fill="#a6b186"/>
<path d="M1382.51,359.33L1392.74,366.17L1385.09,375.49L1376.39,366.79Z" fill="#8eaa80"/>
<path d="M1392.74,366.17L1402.96,373.00L1393.78,384.18L1385.09,375.49Z" fill="#ddcebd"/>
<path d="M1402.96,373.00L1413.19,379.83L1402.48,392.88L1393.78,384.18Z" fill="#bfb98e"/>
<path d="M1413.19,379.83L1423.42,386.67L1411.18,401.58L1402.48,392.88Z" fill="#bfb98e"/>
<path d="M1423.42,386.67L1433.64,393.50L1419.88,410.28L1411.18,401.58Z" fill="#e6dfdd"/>
<path d="M1464.32,414.00L1474.55,420.84L1454.67,445.07L1445.97,436.37Z" fill="#e6dfdd"/>
<path d="M1474.55,420.84L1484.78,427.67L1463.36,453.76L1454.67,445.07Z" fill="#e6dfdd"/>
<path d="M1341.60,332.00L1350.30,340.70L1348.43,342.23Z" fill="#ddcebd"/>
<path d="M1350.30,340.70L1358.99,349.39L1355.27,352.45L1348.43,342.23Z" fill="#d3c0a0"/>
<path d="M1358.99,349.39L1367.69,358.09L1362.10,362.68L1355.27,352.45Z" fill="#d3c0a0"/>
<path d="M1367.69,358.09L1376.39,366.79L1368.93,372.91L1362.10,362.68Z" fill="#6fa079"/>
<path d="M1376.39,366.79L1385.09,375.49L1375.77,383.14L1368.93,372.91Z" fill="#e6dfdd"/>
<path d="M1385.09,375.49L1393.78,384.18L1382.60,393.36L1375.77,383.14Z" fill="#8eaa80"/>
<path d="M1393.78,384.18L1402.48,392.88L1389.43,403.59L1382.60,393.36Z" fill="#ddcebd"/>
<path d="M1402.48,392.88L1411.18,401.58L1396.27,413.82L1389.43,403.59Z" fill="#e6dfdd"/>
<path d="M1411.18,401.58L1419.88,410.28L1403.10,424.04L1396.27,413.82Z" fill="#d3c0a0"/>
<path d="M1341.60,332.00L1348.43,342.23L1346.31,343.36Z" fill="#ddcebd"/>
<path d="M1348.43,342.23L1355.27,352.45L1351.01,354.73L1346.31,343.36Z" fill="#bfb98e"/>
<path d="M1355.27,352.45L1362.10,362.68L1355.72,366.09L1351.01,354.73Z" fill="#8eaa80"/>
<path d="M1362.10,362.68L1368.93,372.91L1360.43,377.45L1355.72,366.09Z" fill="#4d9775"/>
<path d="M1368.93,372.91L1375.77,383.14L1365.14,388.82L1360.43,377.45Z" fill="#8eaa80"/>
<path d="M1375.77,383.14L1382.60,393.36L1369.84,400.18L1365.14,388.82Z" fill="#6fa079"/>
<path d="M1382.60,393.36L1389.43,403.59L1374.55,411.55L1369.84,400.18Z" fill="#6fa079"/>
<path d="M1389.43,403.59L1396.27,413.82L1379.26,422.91L1374.55,411.55Z" fill="#d3c0a0"/>
<path d="M1396.27,413.82L1403.10,424.04L1383.96,434.27L1379.26,422.91Z" fill="#ddcebd"/>
<path d="M1403.10,424.04L1409.94,434.27L1388.67,445.64L1383.96,434.27Z" fill="#e6dfdd"/>
<path d="M1409.94,434.27L1416.77,444.50L1393.38,457.00L1388.67,445.64Z" fill="#ddcebd"/>
<path d="M1416.77,444.50L1423.60,454.72L1398.08,468.36L1393.38,457.00Z" fill="#e6dfdd"/>
<path d="M1346.31,343.36L1351.01,354.73L1346.40,356.13L1344.00,344.06Z" fill="#a6b186"/>
<path d="M1351.01,354.73L1355.72,366.09L1348.80,368.19L1346.40,356.13Z" fill="#6fa079"/>
<path d="M1355.72,366.09L1360.43,377.45L1351.20,380.25L1348.80,368.19Z" fill="#4d9775"/>
<path d="M1360.43,377.45L1365.14,388.82L1353.60,392.32L1351.20,380.25Z" fill="#8eaa80"/>
<path d="M1365.14,388.82L1369.84,400.18L1356.00,404.38L1353.60,392.32Z" fill="#d3c0a0"/>
<path d="M1369.84,400.18L1374.55,411.55L1358.40,416.45L1356.00,404.38Z" fill="#bfb98e"/>
<path d="M1374.55,411.55L1379.26,422.91L1360.80,428.51L1358.40,416.45Z" fill="#d3c0a0"/>
<path d="M1344.00,344.06L1346.40,356.13L1341.60,356.60L1341.60,344.30Z" fill="#ddcebd"/>
<path d="M1346.40,356.13L1348.80,368.19L1341.60,368.90L1341.60,356.60Z" fill="#e6dfdd"/>
<path d="M1348.80,368.19L1351.20,380.25L1341.60,381.20L1341.60,368.90Z" fill="#d3c0a0"/>
<path d="M1351.20,380.25L1353.60,392.32L1341.60,393.50L1341.60,381.20Z" fill="#087c72"/>
<path d="M1353.60,392.32L1356.00,404.38L1341.60,405.80L1341.60,393.50Z" fill="#d3c0a0"/>
<path d="M1356.00,404.38L1358.40,416.45L1341.60,418.10L1341.60,405.80Z" fill="#ddcebd"/>
<path d="M1341.60,344.30L1341.60,356.60L1336.80,356.13L1339.20,344.06Z" fill="#ddcebd"/>
<path d="M1341.60,356.60L1341.60,368.90L1334.40,368.19L1336.80,356.13Z" fill="#a6b186"/>
<path d="M1341.60,368.90L1341.60,381.20L1332.00,380.25L1334.40,368.19Z" fill="#6fa079"/>
<path d="M1341.60,381.20L1341.60,393.50L1329.60,392.32L1332.00,380.25Z" fill="#a6b186"/>
<path d="M1341.60,393.50L1341.60,405.80L1327.20,404.38L1329.60,392.32Z" fill="#bfb98e"/>
<path d="M1341.60,405.80L1341.60,418.10L1324.80,416.45L1327.20,404.38Z" fill="#ddcebd"/>
<path d="M1339.20,344.06L1336.80,356.13L1332.19,354.73L1336.89,343.36Z" fill="#ddcebd"/>
<path d="M1336.80,356.13L1334.40,368.19L1327.48,366.09L1332.19,354.73Z" fill="#a6b186"/>
<path d="M1334.40,368.19L1332.00,380.25L1322.77,377.45L1327.48,366.09Z" fill="#6fa079"/>
<path d="M1332.00,380.25L1329.60,392.32L1318.06,388.82L1322.77,377.45Z" fill="#8eaa80"/>
<path d="M1336.89,343.36L1332.19,354.73L1327.93,352.45L1334.77,342.23Z" fill="#a6b186"/>
<path d="M1332.19,354.73L1327.48,366.09L1321.10,362.68L1327.93,352.45Z" fill="#a6b186"/>
<path d="M1327.48,366.09L1322.77,377.45L1314.27,372.91L1321.10,362.68Z" fill="#a6b186"/>
<path d="M1322.77,377.45L1318.06,388.82L1307.43,383.14L1314.27,372.91Z" fill="#ddcebd"/>
<path d="M1318.06,388.82L1313.36,400.18L1300.60,393.36L1307.43,383.14Z" fill="#ddcebd"/>
<path d="M1313.36,400.18L1308.65,411.55L1293.77,403.59L1300.60,393.36Z" fill="#e6dfdd"/>
<path d="M1341.60,332.00L1334.77,342.23L1332.90,340.70Z" fill="#e6dfdd"/>
<path d="M1334.77,342.23L1327.93,352.45L1324.21,349.39L1332.90,340.70Z" fill="#a6b186"/>
<path d="M1327.93,352.45L1321.10,362.68L1315.51,358.09L1324.21,349.39Z" fill="#bfb98e"/>
<path d="M1321.10,362.68L1314.27,372.91L1306.81,366.79L1315.51,358.09Z" fill="#ddcebd"/>
<path d="M1314.27,372.91L1307.43,383.14L1298.11,375.49L1306.81,366.79Z" fill="#e6dfdd"/>
<path d="M1307.43,383.14L1300.60,393.36L1289.42,384.18L1298.11,375.49Z" fill="#bfb98e"/>
<path d="M1293.77,403.59L1286.93,413.82L1272.02,401.58L1280.72,392.88Z" fill="#e6dfdd"/>
<path d="M1341.60,332.00L1332.90,340.70L1331.37,338.83Z" fill="#e6dfdd"/>
<path d="M1332.90,340.70L1324.21,349.39L1321.15,345.67L1331.37,338.83Z" fill="#e6dfdd"/>
<path d="M1324.21,349.39L1315.51,358.09L1310.92,352.50L1321.15,345.67Z" fill="#ddcebd"/>
<path d="M1315.51,358.09L1306.81,366.79L1300.69,359.33L1310.92,352.50Z" fill="#bfb98e"/>
<path d="M1306.81,366.79L1298.11,375.49L1290.46,366.17L1300.69,359.33Z" fill="#d3c0a0"/>
<path d="M1298.11,375.49L1289.42,384.18L1280.24,373.00L1290.46,366.17Z" fill="#bfb98e"/>
<path d="M1289.42,384.18L1280.72,392.88L1270.01,379.83L1280.24,373.00Z" fill="#ddcebd"/>
<path d="M1280.72,392.88L1272.02,401.58L1259.78,386.67L1270.01,379.83Z" fill="#e6dfdd"/>
<path d="M1331.37,338.83L1321.15,345.67L1318.87,341.41L1330.24,336.71Z" fill="#e6dfdd"/>
<path d="M1321.15,345.67L1310.92,352.50L1307.51,346.12L1318.87,341.41Z" fill="#e6dfdd"/>
<path d="M1310.92,352.50L1300.69,359.33L1296.15,350.83L1307.51,346.12Z" fill="#d3c0a0"/>
<path d="M1300.69,359.33L1290.46,366.17L1284.78,355.54L1296.15,350.83Z" fill="#d3c0a0"/>
<path d="M1290.46,366.17L1280.24,373.00L1273.42,360.24L1284.78,355.54Z" fill="#087c72"/>
<path d="M1280.24,373.00L1270.01,379.83L1262.05,364.95L1273.42,360.24Z" fill="#d3c0a0"/>
<path d="M1270.01,379.83L1259.78,386.67L1250.69,369.66L1262.05,364.95Z" fill="#a6b186"/>
<path d="M1330.24,336.71L1318.87,341.41L1317.47,336.80L1329.54,334.40Z" fill="#ddcebd"/>
<path d="M1318.87,341.41L1307.51,346.12L1305.41,339.20L1317.47,336.80Z" fill="#e6dfdd"/>
<path d="M1307.51,346.12L1296.15,350.83L1293.35,341.60L1305.41,339.20Z" fill="#d3c0a0"/>
<path d="M1296.15,350.83L1284.78,355.54L1281.28,344.00L1293.35,341.60Z" fill="#d3c0a0"/>
<path d="M1284.78,355.54L1273.42,360.24L1269.22,346.40L1281.28,344.00Z" fill="#8eaa80"/>
<path d="M1273.42,360.24L1262.05,364.95L1257.15,348.80L1269.22,346.40Z" fill="#6fa079"/>
<path d="M1262.05,364.95L1250.69,369.66L1245.09,351.20L1257.15,348.80Z" fill="#a6b186"/>
<path d="M1250.69,369.66L1239.33,374.36L1233.03,353.60L1245.09,351.20Z" fill="#d3c0a0"/>
<path d="M1239.33,374.36L1227.96,379.07L1220.96,356.00L1233.03,353.60Z" fill="#e6dfdd"/>
<path d="M1227.96,379.07L1216.60,383.78L1208.90,358.40L1220.96,356.00Z" fill="#e6dfdd"/>
<path d="M1329.54,334.40L1317.47,336.80L1317.00,332.00L1329.30,332.00Z" fill="#ddcebd"/>
<path d="M1317.47,336.80L1305.41,339.20L1304.70,332.00L1317.00,332.00Z" fill="#6fa079"/>
<path d="M1305.41,339.20L1293.35,341.60L1292.40,332.00L1304.70,332.00Z" fill="#4d9775"/>
<path d="M1293.35,341.60L1281.28,344.00L1280.10,332.00L1292.40,332.00Z" fill="#ddcebd"/>
<path d="M1281.28,344.00L1269.22,346.40L1267.80,332.00L1280.10,332.00Z" fill="#087c72"/>
<path d="M1269.22,346.40L1257.15,348.80L1255.50,332.00L1267.80,332.00Z" fill="#218b74"/>
<path d="M1257.15,348.80L1245.09,351.20L1243.20,332.00L1255.50,332.00Z" fill="#d3c0a0"/>
<path d="M1245.09,351.20L1233.03,353.60L1230.90,332.00L1243.20,332.00Z" fill="#d3c0a0"/>
<path d="M1329.30,332.00L1317.00,332.00L1317.47,327.20L1329.54,329.60Z" fill="#a6b186"/>
<path d="M1317.00,332.00L1304.70,332.00L1305.41,324.80L1317.47,327.20Z" fill="#d3c0a0"/>
<path d="M1304.70,332.00L1292.40,332.00L1293.35,322.40L1305.41,324.80Z" fill="#d3c0a0"/>
<path d="M1292.40,332.00L1280.10,332.00L1281.28,320.00L1293.35,322.40Z" fill="#8eaa80"/>
<path d="M1280.10,332.00L1267.80,332.00L1269.22,317.60L1281.28,320.00Z" fill="#4d9775"/>
<path d="M1267.80,332.00L1255.50,332.00L1257.15,315.20L1269.22,317.60Z" fill="#d3c0a0"/>
<path d="M1255.50,332.00L1243.20,332.00L1245.09,312.80L1257.15,315.20Z" fill="#8eaa80"/>
<path d="M1243.20,332.00L1230.90,332.00L1233.03,310.40L1245.09,312.80Z" fill="#ddcebd"/>
<path d="M1329.54,329.60L1317.47,327.20L1318.87,322.59L1330.24,327.29Z" fill="#a6b186"/>
<path d="M1317.47,327.20L1305.41,324.80L1307.51,317.88L1318.87,322.59Z" fill="#d3c0a0"/>
<path d="M1305.41,324.80L1293.35,322.40L1296.15,313.17L1307.51,317.88Z" fill="#a6b186"/>
<path d="M1293.35,322.40L1281.28,320.00L1284.78,308.46L1296.15,313.17Z" fill="#1d5064"/>
<path d="M1281.28,320.00L1269.22,317.60L1273.42,303.76L1284.78,308.46Z" fill="#4d9775"/>
<path d="M1269.22,317.60L1257.15,315.20L1262.05,299.05L1273.42,303.76Z" fill="#d3c0a0"/>
<path d="M1257.15,315.20L1245.09,312.80L1250.69,294.34L1262.05,299.05Z" fill="#8eaa80"/>
<path d="M1245.09,312.80L1233.03,310.40L1239.33,289.64L1250.69,294.34Z" fill="#ddcebd"/>
<path d="M1233.03,310.40L1220.96,308.00L1227.96,284.93L1239.33,289.64Z" fill="#d3c0a0"/>
<path d="M1208.90,305.60L1196.84,303.20L1205.24,275.52L1216.60,280.22Z" fill="#e6dfdd"/>
<path d="M1196.84,303.20L1184.77,300.81L1193.87,270.81L1205.24,275.52Z" fill="#e6dfdd"/>
<path d="M1330.24,327.29L1318.87,322.59L1321.15,318.33L1331.37,325.17Z" fill="#ddcebd"/>
<path d="M1318.87,322.59L1307.51,317.88L1310.92,311.50L1321.15,318.33Z" fill="#d3c0a0"/>
<path d="M1307.51,317.88L1296.15,313.17L1300.69,304.67L1310.92,311.50Z" fill="#6fa079"/>
<path d="M1296.15,313.17L1284.78,308.46L1290.46,297.83L1300.69,304.67Z" fill="#a6b186"/>
<path d="M1284.78,308.46L1273.42,303.76L1280.24,291.00L1290.46,297.83Z" fill="#bfb98e"/>
<path d="M1273.42,303.76L1262.05,299.05L1270.01,284.17L1280.24,291.00Z" fill="#ddcebd"/>
<path d="M1331.37,325.17L1321.15,318.33L1324.21,314.61L1332.90,323.30Z" fill="#ddcebd"/>
<path d="M1321.15,318.33L1310.92,311.50L1315.51,305.91L1324.21,314.61Z" fill="#d3c0a0"/>
<path d="M1310.92,311.50L1300.69,304.67L1306.81,297.21L1315.51,305.91Z" fill="#4d9775"/>
<path d="M1300.69,304.67L1290.46,297.83L1298.11,288.51L1306.81,297.21Z" fill="#a6b186"/>
<path d="M1290.46,297.83L1280.24,291.00L1289.42,279.82L1298.11,288.51Z" fill="#d3c0a0"/>
<path d="M1280.24,291.00L1270.01,284.17L1280.72,271.12L1289.42,279.82Z" fill="#a6b186"/>
<path d="M1270.01,284.17L1259.78,277.33L1272.02,262.42L1280.72,271.12Z" fill="#ddcebd"/>
<path d="M1259.78,277.33L1249.56,270.50L1263.32,253.72L1272.02,262.42Z" fill="#e6dfdd"/>
<path d="M1249.56,270.50L1239.33,263.66L1254.63,245.03L1263.32,253.72Z" fill="#e6dfdd"/>
<path d="M1332.90,323.30L1324.21,314.61L1327.93,311.55L1334.77,321.77Z" fill="#ddcebd"/>
<path d="M1324.21,314.61L1315.51,305.91L1321.10,301.32L1327.93,311.55Z" fill="#d3c0a0"/>
<path d="M1315.51,305.91L1306.81,297.21L1314.27,291.09L1321.10,301.32Z" fill="#ddcebd"/>
<path d="M1306.81,297.21L1298.11,288.51L1307.43,280.86L1314.27,291.09Z" fill="#d3c0a0"/>
<path d="M1298.11,288.51L1289.42,279.82L1300.60,270.64L1307.43,280.86Z" fill="#ddcebd"/>
<path d="M1289.42,279.82L1280.72,271.12L1293.77,260.41L1300.60,270.64Z" fill="#ddcebd"/>
<path d="M1280.72,271.12L1272.02,262.42L1286.93,250.18L1293.77,260.41Z" fill="#e6dfdd"/>
<path d="M1272.02,262.42L1263.32,253.72L1280.10,239.96L1286.93,250.18Z" fill="#ddcebd"/>
<path d="M1263.32,253.72L1254.63,245.03L1273.26,229.73L1280.10,239.96Z" fill="#e6dfdd"/>
<path d="M1341.60,332.00L1334.77,321.77L1336.89,320.64Z" fill="#ddcebd"/>
<path d="M1334.77,321.77L1327.93,311.55L1332.19,309.27L1336.89,320.64Z" fill="#ddcebd"/>
<path d="M1327.93,311.55L1321.10,301.32L1327.48,297.91L1332.19,309.27Z" fill="#e6dfdd"/>
<path d="M1321.10,301.32L1314.27,291.09L1322.77,286.55L1327.48,297.91Z" fill="#e6dfdd"/>
<path d="M1314.27,291.09L1307.43,280.86L1318.06,275.18L1322.77,286.55Z" fill="#ddcebd"/>
<path d="M1307.43,280.86L1300.60,270.64L1313.36,263.82L1318.06,275.18Z" fill="#e6dfdd"/>
<path d="M1300.60,270.64L1293.77,260.41L1308.65,252.45L1313.36,263.82Z" fill="#ddcebd"/>
<path d="M1293.77,260.41L1286.93,250.18L1303.94,241.09L1308.65,252.45Z" fill="#ddcebd"/>
<path d="M1286.93,250.18L1280.10,239.96L1299.24,229.73L1303.94,241.09Z" fill="#e6dfdd"/>
<path d="M1341.60,332.00L1336.89,320.64L1339.20,319.94Z" fill="#ddcebd"/>
<path d="M1336.89,320.64L1332.19,309.27L1336.80,307.87L1339.20,319.94Z" fill="#bfb98e"/>
<path d="M1327.48,297.91L1322.77,286.55L1332.00,283.75L1334.40,295.81Z" fill="#d3c0a0"/>
<path d="M1318.06,275.18L1313.36,263.82L1327.20,259.62L1329.60,271.68Z" fill="#e6dfdd"/>
<path d="M1308.65,252.45L1303.94,241.09L1322.40,235.49L1324.80,247.55Z" fill="#ddcebd"/>
<path d="M1299.24,229.73L1294.53,218.36L1317.60,211.36L1320.00,223.43Z" fill="#e6dfdd"/>
<path d="M1339.20,319.94L1336.80,307.87L1341.60,307.40L1341.60,319.70Z" fill="#e6dfdd"/>
<path d="M1336.80,307.87L1334.40,295.81L1341.60,295.10L1341.60,307.40Z" fill="#e6dfdd"/>
<path d="M1334.40,295.81L1332.00,283.75L1341.60,282.80L1341.60,295.10Z" fill="#e6dfdd"/>
<path d="M1332.00,283.75L1329.60,271.68L1341.60,270.50L1341.60,282.80Z" fill="#e6dfdd"/>
<path d="M1329.60,271.68L1327.20,259.62L1341.60,258.20L1341.60,270.50Z" fill="#e6dfdd"/>
<path d="M1327.20,259.62L1324.80,247.55L1341.60,245.90L1341.60,258.20Z" fill="#e6dfdd"/>
</g>
<g stroke="#b0b0b0" stroke-width="1.1" fill="none"><circle cx="1341.6" cy="332.0" r="74.20" fill="none"/><circle cx="1341.6" cy="332.0" r="148.40" fill="none"/><circle cx="1341.6" cy="332.0" r="222.60" fill="none"/><line x1="1341.6" y1="332.0" x2="1507.35" y2="166.25"/><line x1="1341.6" y1="332.0" x2="1507.35" y2="497.75"/><line x1="1341.6" y1="332.0" x2="1175.85" y2="497.75"/><line x1="1341.6" y1="332.0" x2="1175.85" y2="166.25"/><rect x="1342" y="97.60" width="1" height="468.80" fill="#b0b0b0" stroke="none"/><rect x="1107.20" y="332" width="468.80" height="1" fill="#b0b0b0" stroke="none"/></g>
<circle cx="1341.6" cy="332.0" r="234.4" fill="none" stroke="#000" stroke-width="1.1"/>
<rect x="1574.70" y="331.4" width="2.2" height="2.2" fill="#000"/>
<g font-size="19.44" text-anchor="middle">
<text x="1342.1999999999998" y="84">N</text>
<text x="1342.3" y="592.3">S</text>
<text x="1596.1999999999998" y="338.2">E</text>
<text x="1089.0" y="338.2">W</text>
<text x="1426.05" y="299.75">0.5</text>
<text x="1494.90" y="272.06">1.0</text>
<text x="1562.76" y="242.96">1.5</text>
</g>
<rect x="406.4" y="605.3" width="800" height="30.2" fill="url(#cb)" stroke="#000" stroke-width="1.1"/>
<g stroke="#000" stroke-width="1.1">
<line x1="406.40" y1="635.5" x2="406.40" y2="657.6"/>
<line x1="500.52" y1="635.5" x2="500.52" y2="657.6"/>
<line x1="594.64" y1="635.5" x2="594.64" y2="657.6"/>
<line x1="688.75" y1="635.5" x2="688.75" y2="657.6"/>
<line x1="782.87" y1="635.5" x2="782.87" y2="657.6"/>
<line x1="876.99" y1="635.5" x2="876.99" y2="657.6"/>
<line x1="971.11" y1="635.5" x2="971.11" y2="657.6"/>
<line x1="1065.22" y1="635.5" x2="1065.22" y2="657.6"/>
<line x1="1159.34" y1="635.5" x2="1159.34" y2="657.6"/>
</g>
<g font-size="22.22" text-anchor="middle">
<text x="406.40" y="680.5">0</text>
<text x="500.52" y="680.5">2</text>
<text x="594.64" y="680.5">4</text>
<text x="688.75" y="680.5">6</text>
<text x="782.87" y="680.5">8</text>
<text x="876.99" y="680.5">10</text>
<text x="971.11" y="680.5">12</text>
<text x="1065.22" y="680.5">14</text>
<text x="1159.34" y="680.5">16</text>
</g>
<text x="805" y="708.5" font-size="22.2" text-anchor="middle">Currents [m/s] at COI1205; number of occurrences</text>
</svg></body></html>
